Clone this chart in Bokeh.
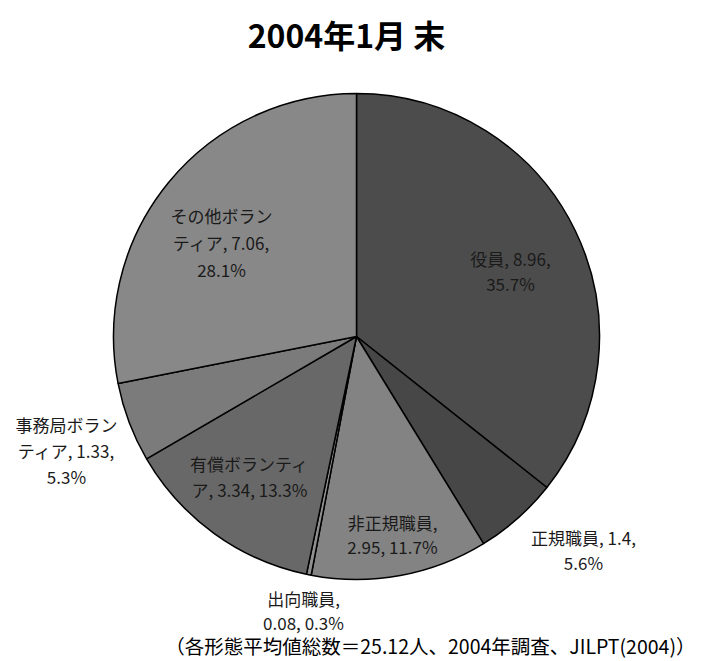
import numpy as np
from bokeh.plotting import figure
from bokeh.models import Range1d, ColumnDataSource
from bokeh.core.properties import value
from bokeh.embed import file_html
from bokeh.resources import INLINE

# ---- data ----
categories = ["役員", "正規職員", "非正規職員", "出向職員", "有償ボランティア", "事務局ボランティア", "その他ボランティア"]
values = [8.96, 1.4, 2.95, 0.08, 3.34, 1.33, 7.06]
title_text = "2004年1月 末"
footer_text = "（各形態平均値総数＝25.12人、2004年調査、JILPT(2004)）"

# ---- styles / layout ----
colors = ["#4c4c4c", "#474747", "#838383", "#909090", "#686868", "#7b7b7b", "#888888"]
W, H = 700, 660
FONT = "Noto Sans CJK JP"
OFF = 0

def sx(x):
    return x - OFF

def sy(y):
    return H - (y - OFF)

cx, cy, R = sx(356), sy(336), 243

total = sum(values)
fr = np.array(values) / total
cum = np.concatenate([[0], np.cumsum(fr)])
start = np.pi / 2 - 2 * np.pi * cum[:-1]
end = np.pi / 2 - 2 * np.pi * cum[1:]

p = figure(width=W, height=H, output_backend="svg", toolbar_location=None,
           x_range=Range1d(0, W), y_range=Range1d(0, H), min_border=0)
p.axis.visible = False
p.grid.visible = False
p.outline_line_color = None

src = ColumnDataSource(dict(x=[cx] * len(values), y=[cy] * len(values),
                            start=list(start), end=list(end), color=colors))
p.wedge(x="x", y="y", radius=R, start_angle="start", end_angle="end",
        direction="clock", fill_color="color", line_color="black", line_width=1.5,
        source=src)

def fmt(v):
    return f"{v:g}"

pct = [f"{v / total * 100:.1f}%" for v in values]
v = [fmt(x) for x in values]
label_lines = [
    [f"{categories[0]}, {v[0]},", pct[0]],
    [f"{categories[1]}, {v[1]},", pct[1]],
    [f"{categories[2]},", f"{v[2]}, {pct[2]}"],
    [f"{categories[3]},", f"{v[3]}, {pct[3]}"],
    [categories[4][:-1], f"{categories[4][-1]}, {v[4]}, {pct[4]}"],
    [categories[5][:-3], f"{categories[5][-3:]}, {v[5]},", pct[5]],
    [categories[6][:-3], f"{categories[6][-3:]}, {v[6]},", pct[6]],
]
label_pos = [(510, 258), (583, 537), (392, 522), (303, 598), (249, 463), (66, 424), (221, 215)]
spacing = [25, 25, 24, 24, 26, 26, 27]

tx, ty, tt = [], [], []
for lines, (px, py), sp in zip(label_lines, label_pos, spacing):
    for i, ln in enumerate(lines):
        tx.append(sx(px))
        ty.append(sy(py + i * sp))
        tt.append(ln)
p.text(x=tx, y=ty, text=tt, text_font=value(FONT), text_font_size="17px",
       text_align="center", text_baseline="middle", text_color="#1a1a1a")

p.text(x=[sx(346)], y=[sy(33)], text=[title_text], text_font=value(FONT),
       text_font_size="32px", text_font_style="bold", text_align="center",
       text_baseline="middle", text_color="black")
p.text(x=[sx(695)], y=[sy(645)], text=[footer_text], text_font=value(FONT),
       text_font_size="19.5px", text_align="right", text_baseline="middle",
       text_color="black")

open("out.html", "w").write(file_html(p, INLINE))
